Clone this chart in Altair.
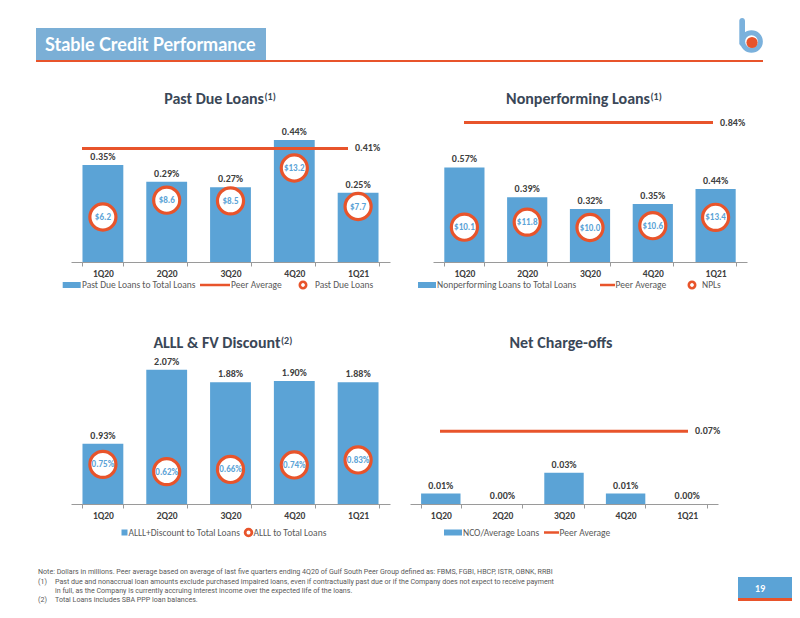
import math
import altair as alt
import pandas as pd

# ---------------- data ----------------
quarters = ["1Q20", "2Q20", "3Q20", "4Q20", "1Q21"]

past_due_pct = [0.35, 0.29, 0.27, 0.44, 0.25]
past_due_amt = [6.2, 8.6, 8.5, 13.2, 7.7]
past_due_peer = 0.41

npl_pct = [0.57, 0.39, 0.32, 0.35, 0.44]
npl_amt = [10.1, 11.8, 10.0, 10.6, 13.4]
npl_peer = 0.84

alll_disc_pct = [0.93, 2.07, 1.88, 1.90, 1.88]
alll_pct = [0.75, 0.62, 0.66, 0.74, 0.83]

nco_pct = [0.01, 0.00, 0.03, 0.01, 0.00]
nco_peer = 0.07

footnotes = [
    ("", "Note: Dollars in millions. Peer average based on average of last five quarters ending 4Q20 of Gulf South Peer Group defined as: FBMS, FGBI, HBCP, ISTR, OBNK, RRBI"),
    ("(1)", "Past due and nonaccrual loan amounts exclude purchased impaired loans, even if contractually past due or if the Company does not expect to receive payment"),
    ("", "in full, as the Company is currently accruing interest income over the expected life of the loans."),
    ("(2)", "Total Loans includes SBA PPP loan balances."),
]

# ---------------- style ----------------
W, H = 784, 602
BLUE = "#5BA3D6"
BANNER = "#7BAFD6"
ORANGE = "#E8542B"
DARK = "#404040"
TITLE = "#3A4757"
GRAY = "#595959"
AXIS = "#9A9A9A"
FONT = "Carlito, Lato, sans-serif"
NOTE_FONT = "Roboto, 'Liberation Sans', sans-serif"

DUMMY = alt.Data(values=[{"k": 0}])


def P(v):
    return v - 8


def txt(text, x, y, size, color, weight="normal", align="left", baseline="middle", font=FONT):
    return alt.Chart(DUMMY).mark_text(
        text=text, align=align, baseline=baseline, fontSize=size, fontWeight=weight,
        color=color, font=font
    ).encode(x=alt.value(P(x)), y=alt.value(P(y)))


def rect(x, x2, y, y2, color, radius=0):
    return alt.Chart(DUMMY).mark_rect(color=color, cornerRadius=radius).encode(
        x=alt.value(P(x)), x2=alt.value(P(x2)), y=alt.value(P(y)), y2=alt.value(P(y2)))


def hline(x, x2, y, color, width):
    return alt.Chart(DUMMY).mark_rule(color=color, strokeWidth=width).encode(
        x=alt.value(P(x)), x2=alt.value(P(x2)), y=alt.value(P(y)))


def ring(x, y, r, color, width, fill="white"):
    return alt.Chart(DUMMY).mark_circle(
        size=math.pi * r * r, fill=fill, stroke=color, strokeWidth=width, opacity=1
    ).encode(x=alt.value(P(x)), y=alt.value(P(y)))


def band_scale(x0, x1):
    return alt.Scale(type="band", domain=quarters, range=[P(x0), P(x1)],
                     paddingInner=0.36, paddingOuter=0.18)


def lin_scale(dmax, zero_y, ppu):
    return alt.Scale(type="linear", domain=[0, dmax],
                     range=[P(zero_y), P(zero_y) - dmax * ppu], nice=False)


def panel(values, xr, axis_y, y_max, y_ppu, peer=None, peer_xr=None,
          amounts=None, a_max=None, a_zero=None, a_ppu=None, amt_expr=None):
    layers = []
    df = pd.DataFrame({"q": quarters, "v": values})
    xs = band_scale(*xr)
    ys = lin_scale(y_max, axis_y, y_ppu)
    axis = alt.Axis(orient="bottom", offset=P(axis_y) - H, title=None, labelAngle=0,
                    tickBand="extent", domainColor=AXIS, tickColor=AXIS, tickSize=4,
                    domainWidth=1, labelFont=FONT, labelFontSize=9.5, labelFontWeight="bold",
                    labelColor=DARK, labelPadding=2, grid=False)
    layers.append(alt.Chart(df).mark_bar(color=BLUE).encode(
        x=alt.X("q:N", scale=xs, sort=quarters, axis=axis),
        y=alt.Y("v:Q", scale=ys, axis=None)))
    layers.append(alt.Chart(df).transform_calculate(
        lbl="format(datum.v, '.2f') + '%'"
    ).mark_text(baseline="alphabetic", dy=-5, font=FONT, fontSize=10, fontWeight="bold",
                color=DARK).encode(
        x=alt.X("q:N", scale=xs, sort=quarters, axis=None),
        y=alt.Y("v:Q", scale=ys, axis=None),
        text="lbl:N"))
    if peer is not None:
        pdf = pd.DataFrame({"s": [quarters[0]], "e": [quarters[-1]], "v": [peer]})
        ps = alt.Scale(type="point", domain=quarters, range=[P(peer_xr[0]), P(peer_xr[1])], padding=0)
        layers.append(alt.Chart(pdf).mark_rule(color=ORANGE, strokeWidth=3).encode(
            x=alt.X("s:N", scale=ps, axis=None), x2="e:N",
            y=alt.Y("v:Q", scale=ys, axis=None)))
        layers.append(alt.Chart(pdf).transform_calculate(
            lbl="format(datum.v, '.2f') + '%'"
        ).mark_text(align="left", baseline="middle", dx=7, font=FONT, fontSize=10,
                    fontWeight="bold", color=DARK).encode(
            x=alt.X("e:N", scale=ps, axis=None),
            y=alt.Y("v:Q", scale=ys, axis=None),
            text="lbl:N"))
    if amounts is not None:
        adf = pd.DataFrame({"q": quarters, "a": amounts})
        as_ = lin_scale(a_max, a_zero, a_ppu)
        layers.append(alt.Chart(adf).mark_circle(
            size=680, fill="white", stroke=ORANGE, strokeWidth=3.2, opacity=1).encode(
            x=alt.X("q:N", scale=xs, sort=quarters, axis=None),
            y=alt.Y("a:Q", scale=as_, axis=None)))
        layers.append(alt.Chart(adf).transform_calculate(lbl=amt_expr).mark_text(
            baseline="middle", font=FONT, fontSize=9, fontWeight="bold", color=BLUE).encode(
            x=alt.X("q:N", scale=xs, sort=quarters, axis=None),
            y=alt.Y("a:Q", scale=as_, axis=None),
            text="lbl:N"))
    return layers


layers = []

# ---------------- header ----------------
layers.append(rect(36, 266, 28, 60, BANNER))
layers.append(hline(36, 763, 61, ORANGE, 2.2))
layers.append(txt("Stable Credit Performance", 45, 51, 18, "white", weight="bold",
                  baseline="alphabetic", font="Lato, sans-serif"))
# logo
layers.append(rect(739.3, 745, 18, 46, "#7BB1DC", radius=2.8))
layers.append(ring(751.5, 41.5, 10, "#7BB1DC", 5))
layers.append(ring(752, 42.5, 6.3, ORANGE, 0, fill=ORANGE))

# ---------------- panels ----------------
layers += panel(past_due_pct, (71, 390), 262, 0.5, 277, peer=past_due_peer, peer_xr=(82, 348),
                amounts=past_due_amt, a_max=20, a_zero=260.4, a_ppu=7.0,
                amt_expr="'$' + format(datum.a, '.1f')")
layers += panel(npl_pct, (433, 747), 262, 1.0, 166, peer=npl_peer, peer_xr=(464, 713),
                amounts=npl_amt, a_max=20, a_zero=257.5, a_ppu=3.0,
                amt_expr="'$' + format(datum.a, '.1f')")
layers += panel(alll_disc_pct, (71, 390), 504, 2.5, 64.8,
                amounts=alll_pct, a_max=2.5, a_zero=506.2, a_ppu=55.7,
                amt_expr="format(datum.a, '.2f') + '%'")
layers += panel(nco_pct, (410, 718), 504, 0.1, 1040, peer=nco_peer, peer_xr=(440, 688))

# ---------------- panel titles ----------------
layers.append(txt("Past Due Loans", 264, 103.5, 16, TITLE, "bold", align="right", baseline="alphabetic"))
layers.append(txt("(1)", 264.5, 99.5, 10, TITLE, "bold", baseline="alphabetic"))
layers.append(txt("Nonperforming Loans", 650, 103.5, 16, TITLE, "bold", align="right", baseline="alphabetic"))
layers.append(txt("(1)", 650.5, 99.5, 10, TITLE, "bold", baseline="alphabetic"))
layers.append(txt("ALLL & FV Discount", 280.5, 347.5, 16, TITLE, "bold", align="right", baseline="alphabetic"))
layers.append(txt("(2)", 281, 343.5, 10, TITLE, "bold", baseline="alphabetic"))
layers.append(txt("Net Charge-offs", 561, 347.5, 16, TITLE, "bold", align="center", baseline="alphabetic"))

# ---------------- legends ----------------
LS = 9.5
ly = 285
layers += [rect(62.7, 80.7, ly - 3, ly + 3, BLUE), txt("Past Due Loans to Total Loans", 82, ly, LS, GRAY),
           hline(200, 230, ly, ORANGE, 2.5), txt("Peer Average", 231, ly, LS, GRAY),
           ring(303, ly, 3.6, ORANGE, 2.6), txt("Past Due Loans", 315, ly, LS, GRAY)]
layers += [rect(418, 436, ly - 3, ly + 3, BLUE), txt("Nonperforming Loans to Total Loans", 437, ly, LS, GRAY),
           hline(600, 615, ly, ORANGE, 2.5), txt("Peer Average", 615.5, ly, LS, GRAY),
           ring(692, ly, 3.6, ORANGE, 2.6), txt("NPLs", 702, ly, LS, GRAY)]
ly2 = 532.5
layers += [rect(121.5, 127.5, ly2 - 3, ly2 + 3, BLUE), txt("ALLL+Discount to Total Loans", 128.5, ly2, LS, GRAY),
           ring(248.5, ly2, 3.8, ORANGE, 2.8), txt("ALLL to Total Loans", 253.5, ly2, LS, GRAY)]
layers += [rect(444, 462, ly2 - 3, ly2 + 3, BLUE), txt("NCO/Average Loans", 463, ly2, LS, GRAY),
           hline(544, 559, ly2, ORANGE, 2.5), txt("Peer Average", 559.5, ly2, LS, GRAY)]

# ---------------- footnotes ----------------
NS = 7.1
fy = [572, 581.5, 590.5, 600]
for (tag, line), y in zip(footnotes, fy):
    if tag:
        layers.append(txt(tag, 38, y, NS, GRAY, font=NOTE_FONT))
        layers.append(txt(line, 55, y, NS, GRAY, font=NOTE_FONT))
    elif line.startswith("Note"):
        layers.append(txt(line, 38, y, NS, GRAY, font=NOTE_FONT))
    else:
        layers.append(txt(line, 55, y, NS, GRAY, font=NOTE_FONT))

# ---------------- page number ----------------
layers.append(rect(738, 800, 577, 598, BLUE))
layers.append(rect(738, 800, 598, 601, ORANGE))
layers.append(txt("19", 755, 588.5, 9, "white", "bold", font="Lato, sans-serif"))

chart = alt.layer(*layers).resolve_scale(x="independent", y="independent").properties(
    width=W, height=H, autosize=alt.AutoSizeParams(type="none"), padding=0,
    background="white"
).configure_view(stroke=None)

chart.save("out.html", embed_options={"renderer": "svg", "actions": False})
